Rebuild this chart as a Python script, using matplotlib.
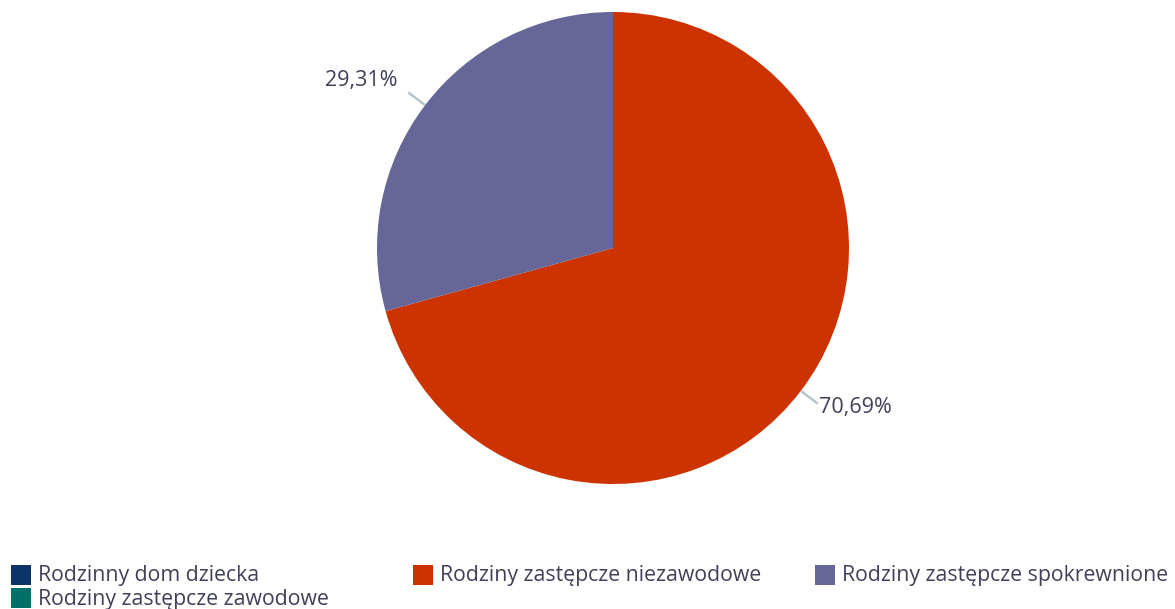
import numpy as np
import matplotlib.pyplot as plt
from matplotlib.patches import Rectangle

plt.rcParams['font.family'] = ['Open Sans', 'DejaVu Sans']

categories = ['Rodzinny dom dziecka', 'Rodziny zastępcze niezawodowe',
              'Rodziny zastępcze spokrewnione', 'Rodziny zastępcze zawodowe']
colors = ['#0b3366', '#cc3300', '#666699', '#00706a']
values = [0.0, 70.69, 29.31, 0.0]
labels = ['', '70,69%', '29,31%', '']

text_color = '#404058'
W, H = 1175, 609
fig = plt.figure(figsize=(W / 100, H / 100), dpi=100)

# pie axes: center (613, 248), radius 236 px
cx, cy, r = 613, 248, 236
ax = fig.add_axes([(cx - r) / W, 1 - (cy + r) / H, 2 * r / W, 2 * r / H])

shown = [i for i, v in enumerate(values) if v > 0]
wedges, _ = ax.pie([values[i] for i in shown], colors=[colors[i] for i in shown],
                   startangle=90, counterclock=False, radius=1,
                   wedgeprops=dict(linewidth=0))
ax.set_xlim(-1, 1)
ax.set_ylim(-1, 1)
ax.set_aspect('equal')
ax.axis('off')

for w, i in zip(wedges, shown):
    a = np.deg2rad((w.theta1 + w.theta2) / 2)
    x0, y0 = np.cos(a), np.sin(a)
    x1, y1 = 1.09 * x0, 1.09 * y0
    ax.plot([x0, x1], [y0, y1], color='#b8c4cc', lw=1.8, clip_on=False,
            solid_capstyle='butt')
    if x0 >= 0:
        ax.text(x1 + 0.005, y1 - 0.015, labels[i], ha='left', va='center',
                fontsize=15.5, color=text_color)
    else:
        ax.text(x1 - 0.045, y1 + 0.05, labels[i], ha='right', va='center',
                fontsize=15.5, color=text_color)

# legend, drawn by hand to keep the fixed column positions
leg_pos = [(11, 575), (413, 575), (815, 575), (11, 598)]
for (lx, ly), name, c in zip(leg_pos, categories, colors):
    fig.add_artist(Rectangle((lx / W, 1 - (ly + 10) / H), 20 / W, 20 / H,
                             transform=fig.transFigure, color=c, lw=0))
    fig.text((lx + 27) / W, 1 - (ly + 1) / H, name, ha='left', va='center',
             fontsize=15.3, color=text_color)

fig.savefig('out.png', dpi=100)
